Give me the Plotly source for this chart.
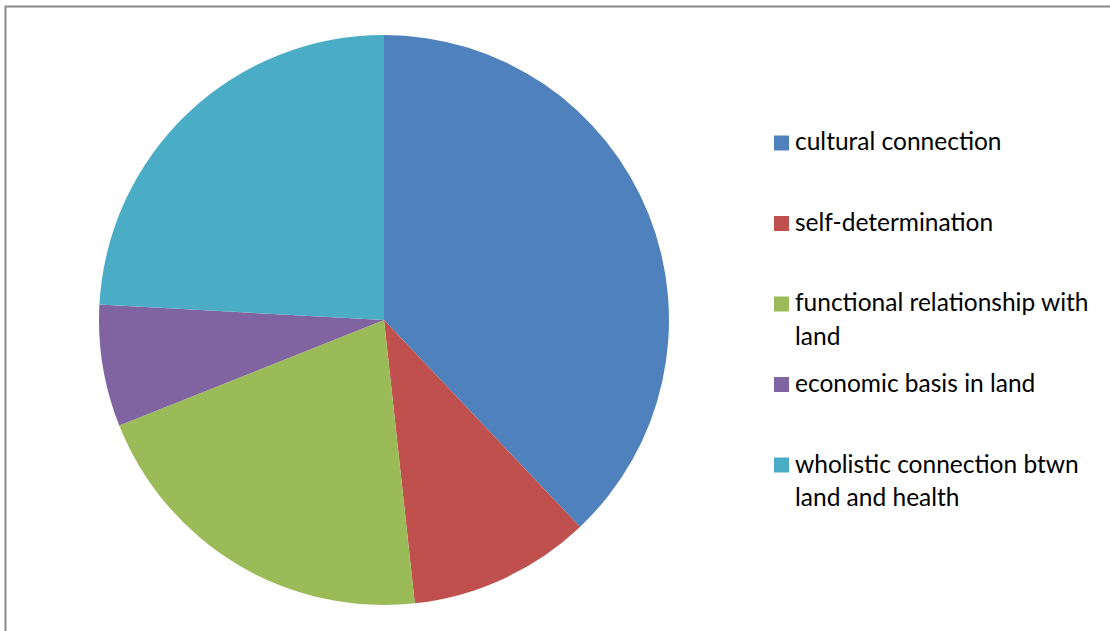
import textwrap
import plotly.graph_objects as go

labels = ["cultural connection", "self-determination", "functional relationship with land",
          "economic basis in land", "wholistic connection btwn land and health"]
values = [11, 3, 6, 2, 7]
colors = ["#4F81BD", "#C0504D", "#9BBB59", "#8064A2", "#4BACC6"]

W, H = 1110, 631
cx, cy, r = 384, 320, 285

fig = go.Figure(go.Pie(
    labels=labels, values=values, sort=False, direction="clockwise", rotation=0,
    marker=dict(colors=colors, line=dict(width=0)),
    textinfo="none", hoverinfo="label+value+percent", showlegend=False,
    domain=dict(x=[(cx - r) / W, (cx + r) / W], y=[1 - (cy + r) / H, 1 - (cy - r) / H]),
))

shapes = [dict(type="rect", xref="paper", yref="paper",
               x0=5.5 / W, x1=1.05, y0=-0.05, y1=1 - 6.5 / H,
               line=dict(color="#8a8a8a", width=2), fillcolor="rgba(0,0,0,0)", layer="above")]
annotations = []
font = dict(family="Lato, 'Open Sans', sans-serif", size=24.5, color="#000000")
y0 = 143
step = 80.5
for i, (lab, col) in enumerate(zip(labels, colors)):
    yc = y0 + i * step
    shapes.append(dict(type="rect", xref="paper", yref="paper",
                       x0=774 / W, x1=789 / W, y0=1 - (yc + 7.5) / H, y1=1 - (yc - 7.5) / H,
                       fillcolor=col, line=dict(width=0)))
    for j, line in enumerate(textwrap.wrap(lab, width=28)):
        annotations.append(dict(text=line, xref="paper", yref="paper", x=793 / W,
                                y=1 - (yc - 2 + j * 33) / H, xanchor="left", yanchor="middle",
                                showarrow=False, font=font))

fig.update_layout(width=W, height=H, margin=dict(l=0, r=0, t=0, b=0),
                  paper_bgcolor="white", plot_bgcolor="white",
                  shapes=shapes, annotations=annotations)
fig.write_html("out.html")
